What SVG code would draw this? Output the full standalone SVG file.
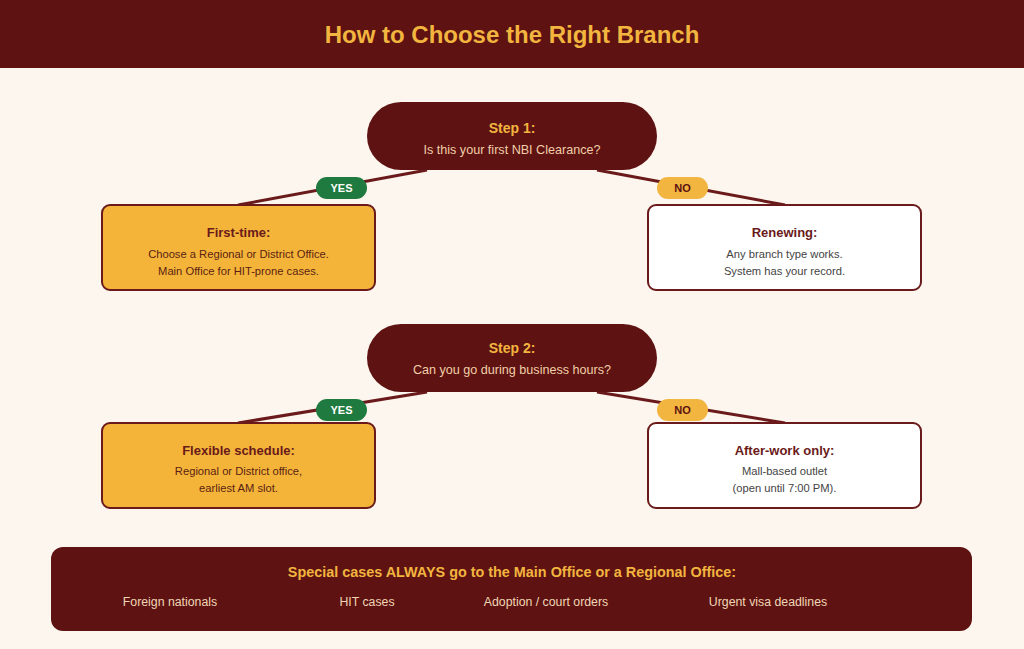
<svg xmlns="http://www.w3.org/2000/svg" width="1024" height="649" viewBox="0 0 1024 649">
<style>
text{font-family:"Liberation Sans",Arial,sans-serif;text-anchor:middle}
.title{font-size:24px;font-weight:bold;fill:#f2b53f}
.step{fill:#5e1212}
.sh{font-size:14px;font-weight:bold;fill:#f2b53f}
.sq{font-size:12.6px;fill:#f1cfa8}
.conn{stroke:#6a1a1a;stroke-width:3;fill:none}
.yes{fill:#1e7a3e}
.no{fill:#f2b53f}
.yt{font-size:11px;font-weight:bold;fill:#ffffff}
.nt{font-size:11px;font-weight:bold;fill:#5e1212}
.gold{fill:#f4b43a;stroke:#6a1a1a;stroke-width:2}
.white{fill:#ffffff;stroke:#6a1a1a;stroke-width:2}
.bh{font-size:13px;font-weight:bold;fill:#6a1a1a}
.bg{font-size:11.2px;fill:#5a1e12}
.bw{font-size:11.2px;fill:#444444}
.spt{font-size:14.4px;font-weight:bold;fill:#f2b53f}
.spi{font-size:12.3px;fill:#f0d6b4}
</style>
<rect x="0" y="0" width="1024" height="649" fill="#fcf6ee"/>
<g id="header">
<rect x="0" y="0" width="1024" height="68" fill="#5e1212"/>
<text class="title" x="512" y="43">How to Choose the Right Branch</text>
</g>
<g id="connectors">
<line class="conn" x1="427" y1="170" x2="238" y2="205"/>
<line class="conn" x1="597" y1="170" x2="785" y2="205"/>
<line class="conn" x1="427" y1="392" x2="238" y2="423"/>
<line class="conn" x1="597" y1="392" x2="785" y2="423"/>
<g id="label-yes-1"><rect class="yes" x="316" y="177" width="51" height="22" rx="11"/><text class="yt" x="341.5" y="192">YES</text></g>
<g id="label-no-1"><rect class="no" x="657" y="177" width="51" height="22" rx="11"/><text class="nt" x="682.5" y="192">NO</text></g>
<g id="label-yes-2"><rect class="yes" x="316" y="399" width="51" height="22" rx="11"/><text class="yt" x="341.5" y="414">YES</text></g>
<g id="label-no-2"><rect class="no" x="657" y="399" width="51" height="22" rx="11"/><text class="nt" x="682.5" y="414">NO</text></g>
</g>
<g id="step1">
<rect class="step" x="367" y="102" width="290" height="68" rx="34"/>
<text class="sh" x="512" y="133">Step 1:</text>
<text class="sq" x="512" y="154">Is this your first NBI Clearance?</text>
</g>
<g id="first-time">
<rect class="gold" x="102" y="205" width="273" height="85" rx="8"/>
<text class="bh" x="238.5" y="237">First-time:</text>
<text class="bg" x="238.5" y="258">Choose a Regional or District Office.</text>
<text class="bg" x="238.5" y="275">Main Office for HIT-prone cases.</text>
</g>
<g id="renewing">
<rect class="white" x="648" y="205" width="273" height="85" rx="8"/>
<text class="bh" x="784.5" y="237">Renewing:</text>
<text class="bw" x="784.5" y="258">Any branch type works.</text>
<text class="bw" x="784.5" y="275">System has your record.</text>
</g>
<g id="step2">
<rect class="step" x="367" y="324" width="290" height="68" rx="34"/>
<text class="sh" x="512" y="353">Step 2:</text>
<text class="sq" x="512" y="374">Can you go during business hours?</text>
</g>
<g id="flexible">
<rect class="gold" x="102" y="423" width="273" height="85" rx="8"/>
<text class="bh" x="238.5" y="455">Flexible schedule:</text>
<text class="bg" x="238.5" y="475">Regional or District office,</text>
<text class="bg" x="238.5" y="492">earliest AM slot.</text>
</g>
<g id="after-work">
<rect class="white" x="648" y="423" width="273" height="85" rx="8"/>
<text class="bh" x="784.5" y="455">After-work only:</text>
<text class="bw" x="784.5" y="475">Mall-based outlet</text>
<text class="bw" x="784.5" y="492">(open until 7:00 PM).</text>
</g>
<g id="special-cases">
<rect x="51" y="547" width="921" height="84" rx="12" fill="#5e1212"/>
<text class="spt" x="512" y="577">Special cases ALWAYS go to the Main Office or a Regional Office:</text>
<text class="spi" x="170" y="606">Foreign nationals</text>
<text class="spi" x="367" y="606">HIT cases</text>
<text class="spi" x="546" y="606">Adoption / court orders</text>
<text class="spi" x="768" y="606">Urgent visa deadlines</text>
</g>
</svg>
